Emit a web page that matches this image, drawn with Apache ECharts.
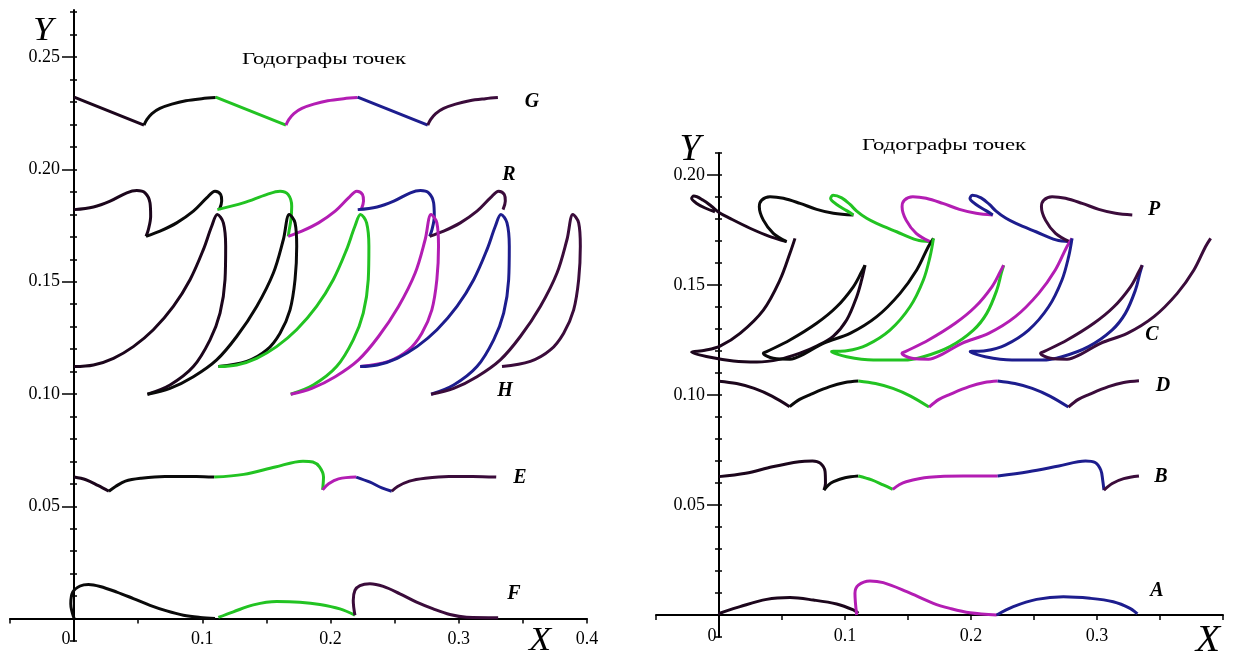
<!DOCTYPE html>
<html><head><meta charset="utf-8">
<script src="https://cdn.jsdelivr.net/npm/echarts@6.0.0/dist/echarts.min.js"></script>
<style>html,body{margin:0;padding:0;background:#fff}#c{width:1233px;height:657px}</style>
</head><body><div id="c"></div>
<script>
// ---------- tick / label values ----------
const xLabelsLeft = [0, 0.1, 0.2, 0.3, 0.4];
const xLabelsRight = [0, 0.1, 0.2, 0.3];
const yLabelsLeft = [0.05, 0.10, 0.15, 0.20, 0.25];
const yLabelsRight = [0.05, 0.10, 0.15, 0.20];
const yMinorLeft = [-0.01,0,0.01,0.02,0.03,0.04,0.05,0.06,0.07,0.08,0.09,0.10,0.11,0.12,0.13,0.14,0.15,0.16,0.17,0.18,0.19,0.20,0.21,0.22,0.23,0.24,0.25,0.26,0.27];
const yMinorRight = [-0.01,0,0.01,0.02,0.03,0.04,0.05,0.06,0.07,0.08,0.09,0.10,0.11,0.12,0.13,0.14,0.15,0.16,0.17,0.18,0.19,0.20,0.21];
const titleText = 'Годографы точек';

// ---------- LEFT PANEL curves ----------
const G0 = [[0,0.2322],[0.0545,0.2197]];
const G1 = [[0.0545,0.2197],[0.0567,0.2222],[0.0607,0.2249],[0.0669,0.2272],[0.0762,0.2291],[0.0871,0.2306],[0.0995,0.2315],[0.1104,0.2320]];
const G2 = [[0.1104,0.2322],[0.1652,0.2197]];
const G3 = [[0.1652,0.2197],[0.1674,0.2222],[0.1714,0.2249],[0.1776,0.2272],[0.1869,0.2291],[0.1978,0.2306],[0.2102,0.2315],[0.2211,0.2320]];
const G4 = [[0.2211,0.2322],[0.2758,0.2197]];
const G5 = [[0.2758,0.2197],[0.2780,0.2222],[0.2820,0.2249],[0.2882,0.2272],[0.2975,0.2291],[0.3084,0.2306],[0.3208,0.2315],[0.3305,0.2320]];

const R0 = [[0,0.1821],[0.0151,0.1833],[0.0281,0.1859],[0.0411,0.1896],[0.0489,0.1906],[0.0553,0.1896],[0.0592,0.1851],[0.0597,0.1792],[0.0579,0.1732],[0.0561,0.1702]];
const R1 = [[0.0561,0.1702],[0.0670,0.1725],[0.0800,0.1762],[0.0930,0.1814],[0.1034,0.1873],[0.1099,0.1903],[0.1143,0.1888],[0.1151,0.1859],[0.1133,0.1821]];
const R2 = [[0.1117,0.1821],[0.1320,0.1851],[0.1500,0.1888],[0.1606,0.1903],[0.1670,0.1888],[0.1697,0.1836],[0.1691,0.1777],[0.1678,0.1732],[0.1670,0.1702]];
const R3 = [[0.1670,0.1702],[0.1776,0.1725],[0.1906,0.1762],[0.2036,0.1814],[0.2140,0.1873],[0.2205,0.1903],[0.2249,0.1888],[0.2257,0.1859],[0.2239,0.1821]];
const R4 = [[0.2212,0.1821],[0.2363,0.1833],[0.2493,0.1859],[0.2623,0.1896],[0.2701,0.1906],[0.2765,0.1896],[0.2804,0.1851],[0.2809,0.1792],[0.2791,0.1732],[0.2773,0.1702]];
const R5 = [[0.2773,0.1702],[0.2882,0.1725],[0.3012,0.1762],[0.3142,0.1814],[0.3246,0.1873],[0.3311,0.1903],[0.3355,0.1888],[0.3363,0.1859],[0.3345,0.1821]];

const H0 = [[0,0.1122],[0.0151,0.1129],[0.0307,0.1159],[0.0462,0.1211],[0.0618,0.1286],[0.0774,0.1390],[0.0904,0.1509],[0.1008,0.1643],[0.1073,0.1747],[0.1117,0.1799],[0.1164,0.1762],[0.1182,0.1658],[0.1177,0.1509],[0.1138,0.1360],[0.1060,0.1241],[0.0930,0.1122],[0.0748,0.1040],[0.0572,0.0999]];
const H1 = [[0.0572,0.0999],[0.0748,0.1025],[0.0930,0.1077],[0.1112,0.1152],[0.1268,0.1256],[0.1424,0.1390],[0.1554,0.1539],[0.1632,0.1688],[0.1678,0.1799],[0.1723,0.1762],[0.1736,0.1658],[0.1723,0.1509],[0.1684,0.1375],[0.1606,0.1271],[0.1502,0.1196],[0.1346,0.1145],[0.1125,0.1122]];
const H2 = [[0.1125,0.1122],[0.1268,0.1129],[0.1424,0.1159],[0.1579,0.1211],[0.1735,0.1286],[0.1891,0.1390],[0.2021,0.1509],[0.2125,0.1643],[0.2190,0.1747],[0.2234,0.1799],[0.2281,0.1762],[0.2299,0.1658],[0.2294,0.1509],[0.2255,0.1360],[0.2177,0.1241],[0.2047,0.1122],[0.1865,0.1040],[0.1689,0.0999]];
const H3 = [[0.1689,0.0999],[0.1854,0.1025],[0.2036,0.1077],[0.2218,0.1152],[0.2374,0.1256],[0.2530,0.1390],[0.2660,0.1539],[0.2738,0.1688],[0.2784,0.1799],[0.2829,0.1762],[0.2842,0.1658],[0.2829,0.1509],[0.2790,0.1375],[0.2712,0.1271],[0.2608,0.1196],[0.2452,0.1145],[0.2231,0.1122]];
const H4 = [[0.2231,0.1122],[0.2363,0.1129],[0.2519,0.1159],[0.2674,0.1211],[0.2830,0.1286],[0.2986,0.1390],[0.3116,0.1509],[0.3220,0.1643],[0.3285,0.1747],[0.3329,0.1799],[0.3376,0.1762],[0.3394,0.1658],[0.3389,0.1509],[0.3350,0.1360],[0.3272,0.1241],[0.3142,0.1122],[0.2960,0.1040],[0.2784,0.0999]];
const H5 = [[0.2784,0.0999],[0.2960,0.1025],[0.3142,0.1077],[0.3324,0.1152],[0.3480,0.1256],[0.3636,0.1390],[0.3766,0.1539],[0.3844,0.1688],[0.3890,0.1799],[0.3935,0.1762],[0.3948,0.1658],[0.3935,0.1509],[0.3896,0.1375],[0.3818,0.1271],[0.3714,0.1196],[0.3558,0.1145],[0.3337,0.1122]];

const E0 = [[0,0.0630],[0.0092,0.0618],[0.0185,0.0593],[0.0271,0.0567]];
const E1 = [[0.0271,0.0567],[0.0323,0.0588],[0.0400,0.0612],[0.0523,0.0625],[0.0708,0.0633],[0.0954,0.0633],[0.1092,0.0630]];
const E2 = [[0.1092,0.0630],[0.1323,0.0642],[0.1569,0.0675],[0.1785,0.0701],[0.1862,0.0697],[0.1914,0.0675],[0.1945,0.0630],[0.1938,0.0573]];
const E3 = [[0.1938,0.0573],[0.1985,0.0600],[0.2062,0.0622],[0.2200,0.0630]];
const E4 = [[0.2200,0.0630],[0.2308,0.0607],[0.2400,0.0582],[0.2477,0.0567]];
const E5 = [[0.2477,0.0567],[0.2523,0.0588],[0.2615,0.0612],[0.2738,0.0625],[0.2923,0.0633],[0.3108,0.0633],[0.3292,0.0630]];

const F0 = [[0,0],[-0.0026,0.0066],[-0.0010,0.0118],[0.0047,0.0145],[0.0112,0.0152],[0.0203,0.0143],[0.0333,0.0118],[0.0462,0.0089],[0.0592,0.0059],[0.0722,0.0034],[0.0852,0.0015],[0.0982,0.0005],[0.1099,0]];
const F1 = [[0.1125,0.0005],[0.1242,0.0030],[0.1398,0.0061],[0.1580,0.0076],[0.1761,0.0073],[0.1917,0.0063],[0.2073,0.0043],[0.2190,0.0015]];
const F2 = [[0.2190,0.0015],[0.2177,0.0080],[0.2190,0.0125],[0.2229,0.0147],[0.2307,0.0155],[0.2411,0.0143],[0.2541,0.0110],[0.2671,0.0073],[0.2801,0.0043],[0.2931,0.0018],[0.3061,0.0006],[0.3307,0.0004]];

// ---------- RIGHT PANEL curves ----------
const P0 = [[-0.0032,0.1833],[-0.0110,0.1850],[-0.0180,0.1872],[-0.0217,0.1894],[-0.0200,0.1904],[-0.0125,0.1885],[-0.0060,0.1858],[0.0000,0.1830],[0.0087,0.1803],[0.0246,0.1758],[0.0405,0.1720],[0.0537,0.1697]];
const P1 = [[0.0537,0.1697],[0.0431,0.1735],[0.0352,0.1795],[0.0320,0.1856],[0.0339,0.1886],[0.0405,0.1901],[0.0511,0.1894],[0.0643,0.1871],[0.0775,0.1844],[0.0908,0.1826],[0.1067,0.1818]];
const P2 = [[0.1067,0.1818],[0.1013,0.1838],[0.0934,0.1866],[0.0886,0.1893],[0.0905,0.1908],[0.0974,0.1896],[0.1040,0.1866],[0.1093,0.1836],[0.1172,0.1803],[0.1251,0.1780],[0.1410,0.1742],[0.1569,0.1705],[0.1675,0.1697]];
const P3 = [[0.1675,0.1697],[0.1565,0.1735],[0.1485,0.1795],[0.1453,0.1856],[0.1472,0.1886],[0.1538,0.1901],[0.1644,0.1894],[0.1776,0.1871],[0.1908,0.1844],[0.2041,0.1826],[0.2173,0.1818]];
const P4 = [[0.2173,0.1818],[0.2119,0.1838],[0.2040,0.1866],[0.1992,0.1893],[0.2011,0.1908],[0.2080,0.1896],[0.2146,0.1866],[0.2199,0.1836],[0.2278,0.1803],[0.2357,0.1780],[0.2516,0.1742],[0.2675,0.1705],[0.2781,0.1697]];
const P5 = [[0.2781,0.1697],[0.2671,0.1735],[0.2591,0.1795],[0.2559,0.1856],[0.2578,0.1886],[0.2644,0.1901],[0.2750,0.1894],[0.2882,0.1871],[0.3014,0.1844],[0.3147,0.1826],[0.3280,0.1818]];

const C0 = [[0.0603,0.1712],[0.0563,0.1644],[0.0484,0.1523],[0.0352,0.1386],[0.0167,0.1280],[0.0008,0.1222],[-0.0111,0.1203],[-0.0217,0.1195],[-0.0100,0.1175],[0.0114,0.1155],[0.0300,0.1150],[0.0480,0.1162],[0.0643,0.1190],[0.0775,0.1222],[0.0908,0.1268],[0.1013,0.1341],[0.1093,0.1447],[0.1132,0.1523],[0.1159,0.1590]];
const C1 = [[0.1159,0.1590],[0.1132,0.1560],[0.1066,0.1492],[0.0934,0.1401],[0.0775,0.1326],[0.0563,0.1250],[0.0378,0.1197],[0.0352,0.1190],[0.0431,0.1167],[0.0563,0.1163],[0.0670,0.1185],[0.0828,0.1235],[0.1040,0.1280],[0.1252,0.1356],[0.1437,0.1462],[0.1569,0.1568],[0.1661,0.1674],[0.1702,0.1712]];
const C2 = [[0.1702,0.1712],[0.1675,0.1629],[0.1622,0.1523],[0.1516,0.1401],[0.1357,0.1295],[0.1172,0.1227],[0.1013,0.1201],[0.0894,0.1197],[0.1013,0.1174],[0.1225,0.1159],[0.1463,0.1159],[0.1622,0.1174],[0.1833,0.1220],[0.2019,0.1295],[0.2125,0.1371],[0.2205,0.1477],[0.2240,0.1553],[0.2259,0.1590]];
const C3 = [[0.2259,0.1590],[0.2232,0.1560],[0.2166,0.1492],[0.2034,0.1401],[0.1875,0.1326],[0.1663,0.1250],[0.1478,0.1197],[0.1452,0.1190],[0.1531,0.1167],[0.1663,0.1163],[0.1770,0.1185],[0.1928,0.1235],[0.2140,0.1280],[0.2352,0.1356],[0.2537,0.1462],[0.2669,0.1568],[0.2761,0.1674],[0.2802,0.1712]];
const C4 = [[0.2802,0.1712],[0.2775,0.1629],[0.2722,0.1523],[0.2616,0.1401],[0.2457,0.1295],[0.2272,0.1227],[0.2113,0.1201],[0.1994,0.1197],[0.2113,0.1174],[0.2325,0.1159],[0.2563,0.1159],[0.2722,0.1174],[0.2933,0.1220],[0.3119,0.1295],[0.3225,0.1371],[0.3305,0.1477],[0.3340,0.1553],[0.3359,0.1590]];
const C5 = [[0.3359,0.1590],[0.3332,0.1560],[0.3266,0.1492],[0.3134,0.1401],[0.2975,0.1326],[0.2763,0.1250],[0.2578,0.1197],[0.2552,0.1190],[0.2631,0.1167],[0.2763,0.1163],[0.2870,0.1185],[0.3028,0.1235],[0.3240,0.1280],[0.3452,0.1356],[0.3637,0.1462],[0.3769,0.1568],[0.3861,0.1674],[0.3902,0.1712]];

const D0 = [[0,0.1063],[0.0140,0.1052],[0.0280,0.1030],[0.0420,0.0995],[0.0561,0.0947]];
const D1 = [[0.0561,0.0947],[0.0640,0.0980],[0.0727,0.1003],[0.0879,0.1038],[0.1000,0.1057],[0.1106,0.1064]];
const D2 = [[0.1106,0.1064],[0.1242,0.1052],[0.1380,0.1030],[0.1520,0.0995],[0.1667,0.0945]];
const D3 = [[0.1667,0.0945],[0.1746,0.0980],[0.1833,0.1003],[0.1985,0.1038],[0.2106,0.1057],[0.2212,0.1064]];
const D4 = [[0.2212,0.1064],[0.2348,0.1052],[0.2486,0.1030],[0.2626,0.0995],[0.2773,0.0945]];
const D5 = [[0.2773,0.0945],[0.2852,0.0980],[0.2939,0.1003],[0.3091,0.1038],[0.3212,0.1057],[0.3333,0.1065]];

const B0 = [[0,0.0629],[0.0212,0.0644],[0.0424,0.0674],[0.0636,0.0697],[0.0742,0.0700],[0.0803,0.0690],[0.0842,0.0652],[0.0845,0.0598],[0.0833,0.0568]];
const B1 = [[0.0833,0.0568],[0.0870,0.0592],[0.0909,0.0606],[0.1000,0.0624],[0.1106,0.0632]];
const B2 = [[0.1106,0.0632],[0.1212,0.0614],[0.1303,0.0591],[0.1379,0.0571]];
const B3 = [[0.1379,0.0571],[0.1430,0.0592],[0.1485,0.0606],[0.1667,0.0626],[0.1939,0.0632],[0.2212,0.0632]];
const B4 = [[0.2212,0.0632],[0.2455,0.0651],[0.2697,0.0677],[0.2909,0.0700],[0.2985,0.0693],[0.3030,0.0659],[0.3045,0.0614],[0.3055,0.0568]];
const B5 = [[0.3055,0.0568],[0.3121,0.0598],[0.3212,0.0620],[0.3333,0.0632]];

const A0 = [[0,0],[0.0008,0.0008],[0.0167,0.0038],[0.0378,0.0071],[0.0563,0.0079],[0.0749,0.0068],[0.0934,0.0050],[0.1066,0.0023],[0.1106,0.0008]];
const A1 = [[0.1093,0],[0.1079,0.0099],[0.1106,0.0136],[0.1198,0.0155],[0.1304,0.0147],[0.1490,0.0106],[0.1701,0.0053],[0.1833,0.0030],[0.1992,0.0010],[0.2204,0]];
const A2 = [[0.2204,0],[0.2336,0.0038],[0.2521,0.0071],[0.2733,0.0083],[0.2944,0.0076],[0.3129,0.0060],[0.3262,0.0030],[0.3320,0.0005]];

// ---------- styling ----------
const COL = {k1:'#1c061c', k2:'#0a0a0a', g:'#22c322', m:'#b31db3', n:'#1d1d8e', p:'#3b0c3b'};
const SERIF = '"Liberation Serif", "DejaVu Serif", serif';

const curveTable = [
  [G0,'k1',0],[G1,'k2',0],[G2,'g',0],[G3,'m',0],[G4,'n',0],[G5,'p',0],
  [R0,'k1',0],[R1,'k2',0],[R2,'g',0],[R3,'m',0],[R4,'n',0],[R5,'p',0],
  [H0,'k1',0],[H1,'k2',0],[H2,'g',0],[H3,'m',0],[H4,'n',0],[H5,'p',0],
  [E0,'k1',0],[E1,'k2',0],[E2,'g',0],[E3,'m',0],[E4,'n',0],[E5,'p',0],
  [F0,'k2',0],[F1,'g',0],[F2,'p',0],
  [P0,'k1',1],[P1,'k2',1],[P2,'g',1],[P3,'m',1],[P4,'n',1],[P5,'p',1],
  [C0,'k1',1],[C1,'k2',1],[C2,'g',1],[C3,'m',1],[C4,'n',1],[C5,'p',1],
  [D0,'k1',1],[D1,'k2',1],[D2,'g',1],[D3,'m',1],[D4,'n',1],[D5,'p',1],
  [B0,'k1',1],[B1,'k2',1],[B2,'g',1],[B3,'m',1],[B4,'n',1],[B5,'p',1],
  [A0,'k1',1],[A1,'m',1],[A2,'n',1]
];

const series = curveTable.map(([d, c, panel]) => ({
  type: 'line', data: d, xAxisIndex: panel, yAxisIndex: panel * 3,
  smooth: 0.35, showSymbol: false, symbol: 'none', silent: true,
  lineStyle: {color: COL[c], width: 3}
}));

// axes: placed at the zero lines through negative offsets (the grid spans x>=-0.05, y>=-0.01)
function xAxis(gridIndex, labels, zeroPad, off) {
  return {
    type: 'value', gridIndex, min: -0.05, max: 0.4, interval: 0.05,
    position: 'bottom', offset: off,
    axisLine: {show: true, onZero: false, lineStyle: {color: '#000', width: 2}},
    axisTick: {show: true, length: 5, lineStyle: {color: '#000', width: 1.5}},
    splitLine: {show: false},
    axisLabel: {
      customValues: labels, margin: 12, fontFamily: SERIF, fontSize: 18, color: '#000',
      formatter: v => (Math.abs(v) < 1e-9 ? '{z|0}' : v.toFixed(1)),
      rich: {z: {fontFamily: SERIF, fontSize: 18, color: '#000', padding: [0, zeroPad, 0, 0]}}
    }
  };
}
function yAxes(gridIndex, max, labels, minor, off) {
  const base = {type: 'value', gridIndex, min: -0.01, max, position: 'left', offset: off, splitLine: {show: false}};
  return [
    Object.assign({}, base, {
      axisLine: {show: true, onZero: false, lineStyle: {color: '#000', width: 2}},
      axisTick: {show: true, customValues: labels, length: 12, lineStyle: {color: '#000', width: 1.5}},
      axisLabel: {customValues: labels, margin: 14, fontFamily: SERIF, fontSize: 18, color: '#000',
                  formatter: v => v.toFixed(2)}
    }),
    Object.assign({}, base, {
      axisLine: {show: false, onZero: false},
      axisTick: {show: true, customValues: minor, length: 4, lineStyle: {color: '#000', width: 1.5}},
      axisLabel: {show: false}
    }),
    Object.assign({}, base, {
      axisLine: {show: false, onZero: false},
      axisTick: {show: true, inside: true, customValues: minor, length: 3, lineStyle: {color: '#000', width: 1.5}},
      axisLabel: {show: false}
    })
  ];
}

function txt(x, y, text, font, sx) {
  return {type: 'text', x, y, scaleX: sx || 1, silent: true,
    style: {text, font, fill: '#000', align: 'center', verticalAlign: 'middle',
            textAlign: 'center', textVerticalAlign: 'middle'}};
}
const LET = 'italic bold 20px ' + SERIF;

const option = {
  animation: false,
  backgroundColor: '#fff',
  grid: [
    {left: 10, top: 10, width: 577, height: 631, containLabel: false, outerBoundsMode: 'none'},
    {left: 656, top: 153, width: 567, height: 484, containLabel: false, outerBoundsMode: 'none'}
  ],
  xAxis: [xAxis(0, xLabelsLeft, 16, -22.5), xAxis(1, xLabelsRight, 14, -22)],
  yAxis: [].concat(yAxes(0, 0.271, yLabelsLeft, yMinorLeft, -64), yAxes(1, 0.21, yLabelsRight, yMinorRight, -63)),
  series,
  graphic: [
    txt(324, 60, titleText, '16px ' + SERIF, 1.42),
    txt(944, 146, titleText, '16px ' + SERIF, 1.42),
    txt(43, 31, 'Y', 'italic 33px ' + SERIF, 1.1),
    txt(540, 641, 'X', 'italic 33px ' + SERIF, 1.1),
    txt(690, 150, 'Y', 'italic 38px ' + SERIF, 1.0),
    txt(1208, 641, 'X', 'italic 38px ' + SERIF, 1.05),
    txt(532, 102, 'G', LET), txt(509, 175, 'R', LET), txt(505, 391, 'H', LET),
    txt(520, 478, 'E', LET), txt(514, 594, 'F', LET),
    txt(1154, 210, 'P', LET), txt(1152, 335, 'C', LET), txt(1163, 386, 'D', LET),
    txt(1161, 477, 'B', LET), txt(1157, 591, 'A', LET)
  ]
};
const chart = echarts.init(document.getElementById('c'), null, {renderer: 'canvas'});
chart.setOption(option);
</script></body></html>
